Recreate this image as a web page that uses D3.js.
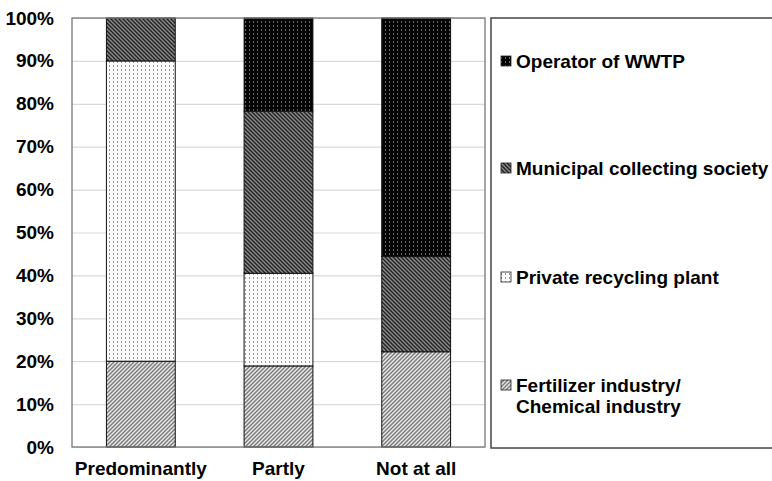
<!DOCTYPE html>
<html>
<head>
<meta charset="utf-8">
<script src="https://cdn.jsdelivr.net/npm/d3@7"></script>
<style>
  body { margin: 0; background: #fff; }
  svg text { font-family: 'Liberation Sans', Arial, sans-serif; font-weight: bold; fill: #000; }
</style>
</head>
<body>
<div class="chart"></div>
<script>
const categories = ['Predominantly', 'Partly', 'Not at all']
const seriesNames = ['Fertilizer industry/Chemical industry', 'Private recycling plant', 'Municipal collecting society', 'Operator of WWTP']
// shares in %, per category
const fertilizer = [20, 18.9, 22.2]
const privatePlant = [70, 21.6, 0]
const municipal = [10, 37.8, 22.2]
const operator = [0, 21.6, 55.6]
const yTicks = [0, 10, 20, 30, 40, 50, 60, 70, 80, 90, 100]
const legendLabels = [
  ['Operator of WWTP'],
  ['Municipal collecting society'],
  ['Private recycling plant'],
  ['Fertilizer industry/', 'Chemical industry']
]

const WIDTH = 772
const HEIGHT = 481
const margin = {top: 18, right: 287, bottom: 34, left: 72}

const svg = d3.select('.chart').append('svg')
  .attr('width', WIDTH)
  .attr('height', HEIGHT)

// fill patterns
const defs = svg.append('defs')

function stripes (id, bg, fg, dir) {
  const p = defs.append('pattern')
    .attr('id', id)
    .attr('patternUnits', 'userSpaceOnUse')
    .attr('width', 4).attr('height', 4)
  p.append('rect').attr('width', 4).attr('height', 4).attr('fill', bg)
  const d = dir > 0 ? 'M-1,1 l2,-2 M0,4 l4,-4 M3,5 l2,-2' : 'M-1,3 l2,2 M0,0 l4,4 M3,-1 l2,2'
  p.append('path').attr('d', d).attr('stroke', fg).attr('stroke-width', 1.4)
}

function dots (id, bg, fg) {
  const p = defs.append('pattern')
    .attr('id', id)
    .attr('patternUnits', 'userSpaceOnUse')
    .attr('width', 4).attr('height', 4)
  p.append('rect').attr('width', 4).attr('height', 4).attr('fill', bg)
  p.append('rect').attr('x', 1).attr('y', 1).attr('width', 1).attr('height', 2).attr('fill', fg)
}

stripes('pFert', '#e8e8e8', '#7a7a7a', 1)
dots('pPriv', '#fbfbfb', '#999')
stripes('pMuni', '#8a8a8a', '#222', -1)
dots('pOper', '#050505', '#666')

const fills = ['url(#pFert)', 'url(#pPriv)', 'url(#pMuni)', 'url(#pOper)']

const plotW = WIDTH - margin.left - margin.right
const plotH = HEIGHT - margin.top - margin.bottom

const x = d3.scaleBand()
  .domain(categories)
  .range([margin.left, margin.left + plotW])
  .paddingInner(0.5)
  .paddingOuter(0.25)

const y = d3.scaleLinear()
  .domain([0, 100])
  .range([margin.top + plotH, margin.top])

// gridlines
svg.append('g')
  .attr('class', 'grid')
  .attr('transform', 'translate(' + margin.left + ',0)')
  .call(d3.axisLeft(y).tickValues(yTicks).tickSize(-plotW).tickFormat(''))
  .call(g => g.select('.domain').remove())
  .call(g => g.selectAll('line').attr('stroke', '#d9d9d9').attr('stroke-width', 1.2))

// stacked bars
const rows = categories.map((c, i) => ({
  cat: c,
  fert: fertilizer[i],
  priv: privatePlant[i],
  muni: municipal[i],
  oper: operator[i]
}))
const stack = d3.stack().keys(['fert', 'priv', 'muni', 'oper'])
const layers = stack(rows)

// normalise the top so each bar reaches 100%
layers.forEach(l => l.forEach(d => { d[1] = Math.min(d[1], 100) }))
layers[layers.length - 1].forEach(d => { d[1] = 100 })

svg.append('g')
  .selectAll('g')
  .data(layers)
  .enter()
  .append('g')
  .attr('fill', (d, i) => fills[i])
  .selectAll('rect')
  .data(d => d.filter(s => s[1] - s[0] > 0.01))
  .enter()
  .append('rect')
  .attr('x', d => x(d.data.cat))
  .attr('y', d => y(d[1]))
  .attr('width', x.bandwidth())
  .attr('height', d => y(d[0]) - y(d[1]))
  .attr('stroke', '#111')
  .attr('stroke-width', 1)

// plot frame
svg.append('rect')
  .attr('x', margin.left)
  .attr('y', margin.top)
  .attr('width', plotW)
  .attr('height', plotH)
  .attr('fill', 'none')
  .attr('stroke', '#777')
  .attr('stroke-width', 1.3)

// y tick labels
svg.append('g')
  .attr('transform', 'translate(' + margin.left + ',0)')
  .call(d3.axisLeft(y).tickValues(yTicks).tickSize(0).tickPadding(18).tickFormat(d => d + '%'))
  .call(g => g.select('.domain').remove())
  .call(g => g.selectAll('text').style('font-size', '19px').style('font-family', "'Liberation Sans', Arial, sans-serif").style('font-weight', 'bold').attr('fill', '#000'))

// x labels
svg.append('g')
  .attr('transform', 'translate(0,' + (margin.top + plotH) + ')')
  .call(d3.axisBottom(x).tickSize(0).tickPadding(15))
  .call(g => g.select('.domain').remove())
  .call(g => g.selectAll('text').style('font-size', '19px').style('font-family', "'Liberation Sans', Arial, sans-serif").style('font-weight', 'bold').attr('fill', '#000'))

// legend
const legend = svg.append('g')
legend.append('rect')
  .attr('x', 491)
  .attr('y', margin.top)
  .attr('width', 290)
  .attr('height', plotH + 1)
  .attr('fill', 'none')
  .attr('stroke', '#444')
  .attr('stroke-width', 1.5)

const legendY = [61, 168, 277, 385]
const legendFills = [fills[3], fills[2], fills[1], fills[0]]
legendLabels.forEach((lines, i) => {
  legend.append('rect')
    .attr('x', 501)
    .attr('y', legendY[i] - 5)
    .attr('width', 10)
    .attr('height', 10)
    .attr('fill', legendFills[i])
    .attr('stroke', '#222')
    .attr('stroke-width', 0.8)
  const t = legend.append('text')
    .attr('x', 516)
    .attr('y', legendY[i])
    .style('font-size', '19px')
  lines.forEach((ln, j) => {
    t.append('tspan').attr('x', 516).attr('dy', j === 0 ? '0.35em' : '1.12em').text(ln)
  })
})
</script>
</body>
</html>
